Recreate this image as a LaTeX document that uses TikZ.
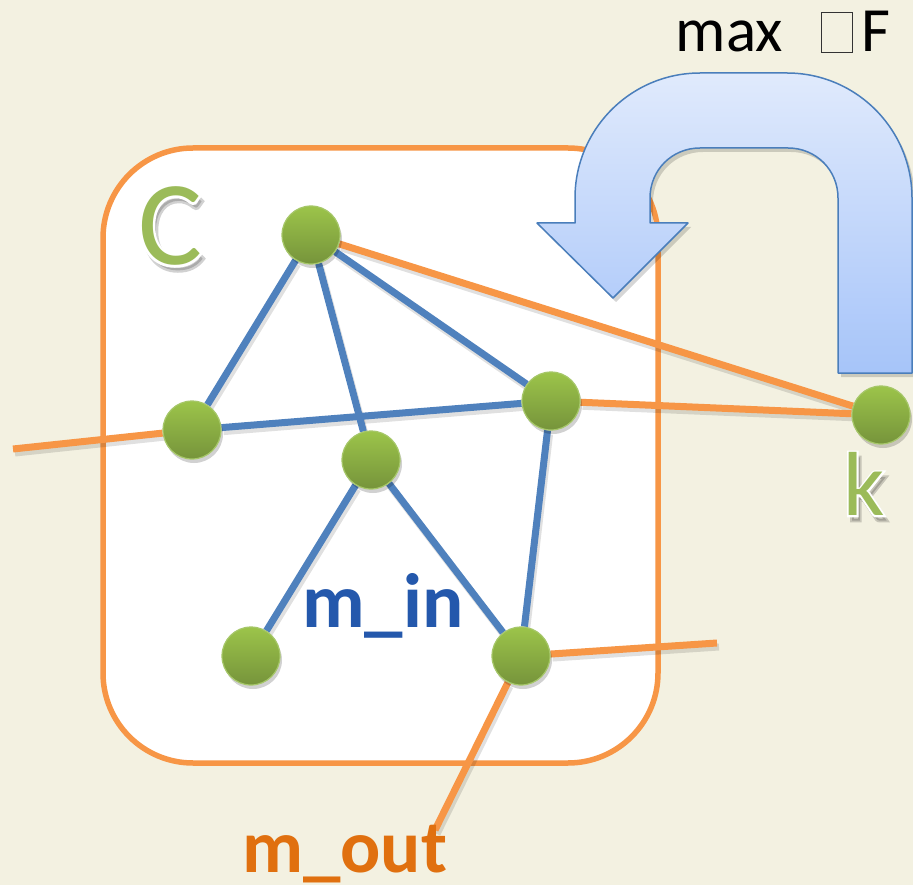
\documentclass[tikz,border=0pt]{standalone}
\usepackage{fontspec}
\setmainfont{Carlito}
\newfontfamily\rimfont{Carlito}[FakeBold=4]
\usetikzlibrary{calc}

\definecolor{paper}{HTML}{F3F1E1}
\definecolor{boxorange}{HTML}{F79646}
\definecolor{edgeblue}{HTML}{4F81BD}
\definecolor{leafgreen}{HTML}{9BBB59}
\definecolor{nodetop}{HTML}{9CC44A}
\definecolor{nodebot}{HTML}{76943B}
\definecolor{nodeedge}{HTML}{A6C769}
\definecolor{arrowtop}{HTML}{E0EAFC}
\definecolor{arrowbot}{HTML}{A6C4F9}
\definecolor{arrowline}{HTML}{4A7EBB}
\definecolor{inblue}{HTML}{2458AC}
\definecolor{outorange}{HTML}{E0700F}

\pgfdeclarelayer{paperlayer}
\pgfdeclarelayer{edgelayer}
\pgfsetlayers{paperlayer,edgelayer,main}

% empty frame standing in for a glyph the font could not show
\newcommand{\glyphbox}{{\setlength{\fboxsep}{0pt}\setlength{\fboxrule}{1.4pt}%
  \color{black!80}\fbox{\rule{0pt}{39pt}\hspace{29.5pt}}}}

% green letter on a thickened white rim with a soft drop shadow
\newcommand{\halotext}[4]{%
  \node[caption, anchor=center, text=black, opacity=.18] (#1-shadow) at ($(#2)+(3,5)$) {\rimfont\fontsize{#3}{#3}\selectfont #4};
  \node[caption, anchor=center, text=white] (#1-rim) at (#2) {\rimfont\fontsize{#3}{#3}\selectfont #4};
  \node[caption, anchor=center, text=leafgreen] (#1) at (#2) {\fontsize{#3}{#3}\selectfont #4};
}

\begin{document}
\begin{tikzpicture}[x=1pt,y=-1pt,
  vertex/.style={circle, minimum size=58pt, inner sep=0pt,
    top color=nodetop, bottom color=nodebot, draw=nodeedge, line width=1.2pt},
  graphedge/.style={draw=edgeblue, line width=7pt},
  cutedge/.style={draw=boxorange, line width=7pt},
  edgeshade/.style={draw=black, opacity=.12, line width=7pt},
  caption/.style={inner sep=0pt, anchor=base west}]

\useasboundingbox (0,0) rectangle (913,885);

\begin{pgfonlayer}{paperlayer}
  \fill[paper] (0,0) rectangle (913,885);
  \draw[boxorange, line width=5.5pt, fill=white, rounded corners=90pt]
    (103,148) rectangle (658,763);
\end{pgfonlayer}

% vertices of the graph, each over a soft shadow
\foreach \px/\py in {311/235, 192/430, 371/460, 551/401, 881/415, 251/656, 521/656}
  \fill[black, opacity=.18] (\px+2,\py+4) circle[radius=29pt];
\node[vertex] (t)  at (311,235) {};
\node[vertex] (l)  at (192,430) {};
\node[vertex] (c)  at (371,460) {};
\node[vertex] (r)  at (551,401) {};
\node[vertex] (k)  at (881,415) {};
\node[vertex] (bl) at (251,656) {};
\node[vertex] (br) at (521,656) {};

% loose ends of the cut edges
\coordinate (lfree) at (13,449);
\coordinate (rfree) at (717,643);
\coordinate (bfree) at (435,830);

\begin{pgfonlayer}{edgelayer}
  \begin{scope}[transform canvas={shift={(2pt,-4pt)}}]
    \foreach \a/\b in {t/l, t/c, t/r, l/r, c/bl, c/br, r/br,
                       t/k, r/k, l/lfree, br/rfree, br/bfree}
      \draw[edgeshade] (\a) -- (\b);
  \end{scope}
  \foreach \a/\b in {t/l, t/c, t/r, l/r, c/bl, c/br, r/br}
    \draw[graphedge] (\a) -- (\b);
  \foreach \a/\b in {t/k, r/k, l/lfree, br/rfree, br/bfree}
    \draw[cutedge] (\a) -- (\b);
\end{pgfonlayer}

% labels
\halotext{clabel}{170,226}{120pt}{C}
\halotext{klabel}{864,484}{91pt}{k}
\node[caption, text=inblue, font=\bfseries\fontsize{77pt}{77pt}\selectfont] (min) at (302,627) {m\_in};
\node[caption, text=outorange, font=\bfseries\fontsize{75pt}{75pt}\selectfont] (mout) at (242,872) {m\_out};

% U-turn arrow: shadow, then body
\begin{scope}[transform canvas={shift={(3pt,-4pt)}}]
  \fill[black, opacity=.16]
    (912,373) -- (912,198) .. controls (912,129) and (856,73) .. (787,73)
    -- (700,73) .. controls (631,73) and (575,129) .. (575,198)
    -- (575,223) -- (537,223) -- (613,298) -- (688,223) -- (650,223)
    -- (650,198) .. controls (650,170) and (672,148) .. (700,148)
    -- (788,148) .. controls (816,148) and (838,170) .. (838,198)
    -- (838,373) -- cycle;
\end{scope}
\path[top color=arrowtop, bottom color=arrowbot, draw=arrowline, line width=1.5pt, line join=round]
    (912,373) -- (912,198) .. controls (912,129) and (856,73) .. (787,73)
    -- (700,73) .. controls (631,73) and (575,129) .. (575,198)
    -- (575,223) -- (537,223) -- (613,298) -- (688,223) -- (650,223)
    -- (650,198) .. controls (650,170) and (672,148) .. (700,148)
    -- (788,148) .. controls (816,148) and (838,170) .. (838,198)
    -- (838,373) -- cycle;

\node[caption, text=black, font=\fontsize{63pt}{63pt}\selectfont] (objective) at (675.5,52)
  {max\hspace{38pt}\glyphbox\hspace{8pt}F};

\end{tikzpicture}
\end{document}
